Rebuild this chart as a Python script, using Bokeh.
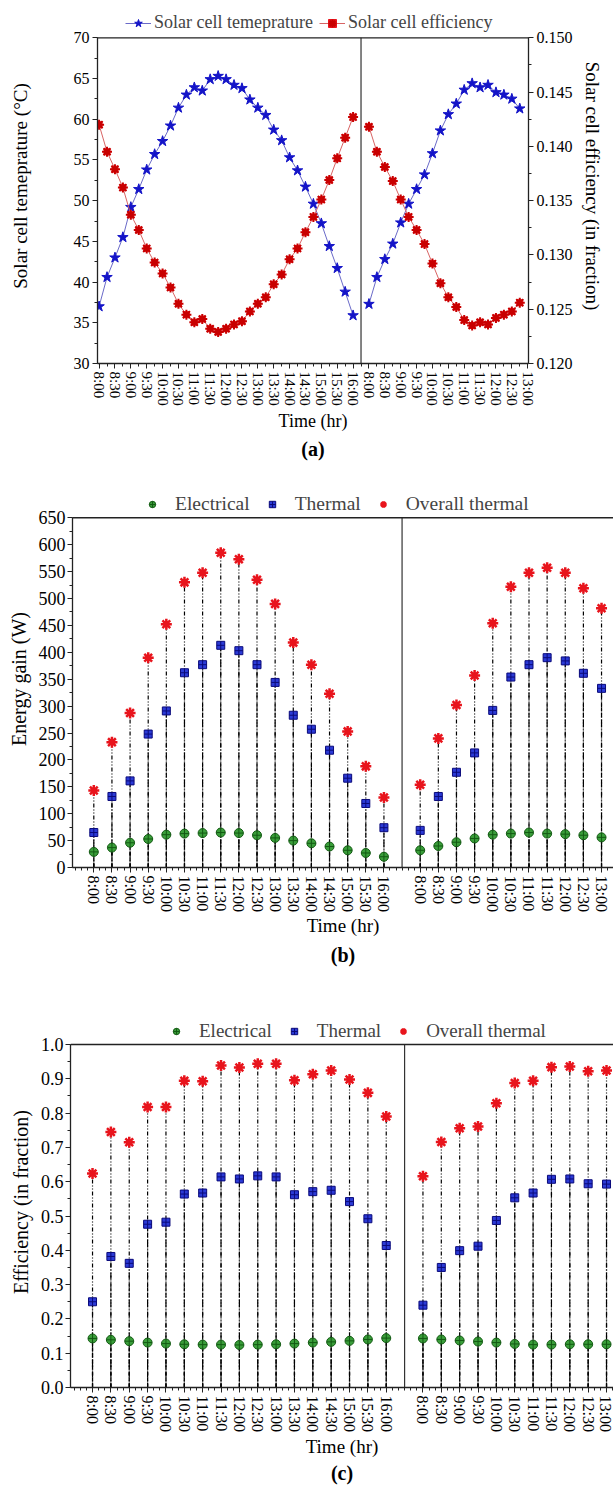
from bokeh.plotting import figure
from bokeh.models import (Range1d, LinearAxis, FixedTicker, SingleIntervalTicker, Span,
                          Legend, LegendItem, Title, NumeralTickFormatter)
from bokeh.embed import file_html
from bokeh.resources import INLINE

FONT = "Liberation Serif"

# ---------------- data ----------------
day1_labels = ["8:00", "8:30", "9:00", "9:30", "10:00", "10:30", "11:00", "11:30", "12:00",
               "12:30", "13:00", "13:30", "14:00", "14:30", "15:00", "15:30", "16:00"]
day2_labels = ["8:00", "8:30", "9:00", "9:30", "10:00", "10:30", "11:00", "11:30", "12:00",
               "12:30", "13:00"]

# (a) 15-min readings
temp_day1 = [37.0, 40.6, 43.0, 45.5, 49.2, 51.4, 53.8, 55.7, 57.3, 59.2, 61.4, 63.0, 63.9,
             63.5, 64.9, 65.3, 64.9, 64.2, 63.8, 62.4, 61.4, 60.5, 58.7, 57.4, 55.3, 53.7,
             51.7, 49.6, 47.2, 44.4, 41.7, 38.8, 35.9]
eff_day1 = [0.1420, 0.1395, 0.1379, 0.1362, 0.1337, 0.1323, 0.1306, 0.1293, 0.1283, 0.1270,
            0.1255, 0.1245, 0.1238, 0.1241, 0.1232, 0.1229, 0.1232, 0.1236, 0.1239, 0.1248,
            0.1255, 0.1261, 0.1273, 0.1282, 0.1296, 0.1306, 0.1321, 0.1335, 0.1351, 0.1369,
            0.1389, 0.1408, 0.1427]
temp_day2 = [37.3, 40.6, 42.8, 44.7, 47.3, 49.6, 51.4, 53.2, 55.8, 58.6, 60.6, 61.9, 63.6,
             64.4, 63.9, 64.2, 63.3, 63.0, 62.5, 61.3]
eff_day2 = [0.1418, 0.1395, 0.1381, 0.1368, 0.1351, 0.1335, 0.1323, 0.1310, 0.1292, 0.1274,
            0.1261, 0.1252, 0.1240, 0.1235, 0.1238, 0.1236, 0.1242, 0.1245, 0.1248, 0.1256]

# (b) energy gain (W), 30-min readings
elec_w_day1 = [29, 37, 46, 53, 61, 63, 64, 65, 64, 60, 55, 50, 45, 39, 32, 27, 20]
therm_w_day1 = [65, 132, 161, 248, 291, 362, 377, 413, 403, 377, 344, 283, 257, 218, 166, 119, 74]
over_w_day1 = [143, 233, 287, 390, 452, 530, 548, 585, 573, 535, 490, 418, 377, 323, 253, 188, 130]
elec_w_day2 = [32, 40, 47, 54, 61, 63, 65, 63, 62, 60, 56]
therm_w_day2 = [69, 132, 177, 213, 292, 354, 377, 390, 384, 361, 333]
over_w_day2 = [154, 240, 302, 357, 454, 522, 548, 557, 548, 519, 482]

# (c) efficiency (fraction), 30-min readings
elec_e_day1 = [0.143, 0.139, 0.135, 0.131, 0.128, 0.126, 0.125, 0.125, 0.124, 0.125, 0.126,
               0.128, 0.131, 0.133, 0.136, 0.140, 0.144]
therm_e_day1 = [0.250, 0.382, 0.362, 0.476, 0.482, 0.564, 0.567, 0.614, 0.608, 0.617, 0.614,
                0.562, 0.571, 0.575, 0.542, 0.492, 0.414]
over_e_day1 = [0.624, 0.745, 0.715, 0.818, 0.818, 0.894, 0.893, 0.939, 0.933, 0.944, 0.944,
               0.896, 0.913, 0.924, 0.898, 0.859, 0.790]
elec_e_day2 = [0.143, 0.140, 0.137, 0.134, 0.131, 0.127, 0.125, 0.125, 0.126, 0.126, 0.126]
therm_e_day2 = [0.240, 0.350, 0.399, 0.412, 0.487, 0.553, 0.567, 0.607, 0.608, 0.594, 0.593]
over_e_day2 = [0.616, 0.716, 0.756, 0.761, 0.829, 0.888, 0.894, 0.934, 0.936, 0.922, 0.924]

# ---------------- helpers ----------------
BLUE = "#1414c8"
RED = "#e8141c"
GREEN = "#3a9e3a"


def style_axis(ax, tick_size, label_size, standoff=6, lab_standoff=3):
    ax.major_label_text_font = FONT
    ax.major_label_text_font_size = tick_size
    ax.major_label_text_color = "black"
    ax.axis_label_text_font = FONT
    ax.axis_label_text_font_size = label_size
    ax.axis_label_text_font_style = "normal"
    ax.axis_label_text_color = "black"
    ax.axis_label_standoff = standoff
    ax.axis_line_color = "#222222"
    ax.axis_line_width = 1.3
    ax.major_tick_line_color = "#222222"
    ax.minor_tick_line_color = "#222222"
    ax.major_tick_out = 5
    ax.major_tick_in = 0
    ax.minor_tick_out = 3
    ax.minor_tick_in = 0
    ax.major_label_standoff = lab_standoff


def caption(p, text, standoff):
    t = Title(text=text, align="center", text_font=FONT, text_font_size="20px",
              text_font_style="bold", text_color="black", standoff=standoff)
    p.add_layout(t, "below")


def base_fig(width, height, xr, yr, left, right, top, bottom):
    p = figure(width=width, height=height, title=None, x_range=xr, y_range=yr,
               output_backend="svg", toolbar_location=None,
               min_border_left=left, min_border_right=right,
               min_border_top=top, min_border_bottom=bottom)
    p.xgrid.visible = False
    p.ygrid.visible = False
    p.outline_line_color = None
    p.background_fill_color = "white"
    p.border_fill_color = "white"
    return p


# ---------------- panel (a) ----------------
x_a1 = list(range(0, len(temp_day1)))
x_a2 = list(range(34, 34 + len(temp_day2)))
a_major = list(range(0, 33, 2)) + list(range(34, 55, 2))
a_labels = day1_labels + day2_labels
a_minor = [k for k in range(1, 55, 2)]

# page pixel geometry of panel (a)
A_H, A_FTOP, A_DTOP, A_FBOT = 490, 8, 37.3, 363
A_LEFT, A_RIGHT = 97, 528
a_px_per = (A_FBOT - A_DTOP)
a_extra = (A_DTOP - A_FTOP) / a_px_per
pa = base_fig(613, A_H, Range1d(-0.2, 54.1), Range1d(30, 70 + 40 * a_extra),
              A_LEFT, 613 - A_RIGHT, A_FTOP, A_H - A_FBOT)
pa.extra_y_ranges = {"eff": Range1d(0.12, 0.15 + 0.03 * a_extra)}

pa.add_layout(Span(location=70, dimension="width", line_color="#222222", line_width=1.3))
pa.segment(x0=[33], y0=[30], x1=[33], y1=[70], line_color="#333333", line_width=1.2)

lt1 = pa.line(x_a1, temp_day1, line_color="#6a6ac8", line_width=1)
lt2 = pa.line(x_a2, temp_day2, line_color="#6a6ac8", line_width=1)
st1 = pa.scatter(x_a1, temp_day1, marker="star", size=11, fill_color=BLUE, line_color=BLUE)
st2 = pa.scatter(x_a2, temp_day2, marker="star", size=11, fill_color=BLUE, line_color=BLUE)

le1 = pa.line(x_a1, eff_day1, line_color="#d86464", line_width=1, y_range_name="eff")
le2 = pa.line(x_a2, eff_day2, line_color="#d86464", line_width=1, y_range_name="eff")
se1 = pa.scatter(x_a1, eff_day1, marker="square", size=6, fill_color=RED, line_color=RED,
                 y_range_name="eff")
sa1 = pa.scatter(x_a1, eff_day1, marker="asterisk", size=10, line_color="#c80000",
                 line_width=2, y_range_name="eff")
se2 = pa.scatter(x_a2, eff_day2, marker="square", size=6, fill_color=RED, line_color=RED,
                 y_range_name="eff")
sa2 = pa.scatter(x_a2, eff_day2, marker="asterisk", size=10, line_color="#c80000",
                 line_width=2, y_range_name="eff")

pa.xaxis.ticker = FixedTicker(ticks=a_major, minor_ticks=a_minor)
pa.xaxis.major_label_overrides = {t: lab for t, lab in zip(a_major, a_labels)}
pa.xaxis.major_label_orientation = "vertical"
pa.xaxis.axis_label = "Time (hr)"
style_axis(pa.xaxis[0], "15px", "18px", 2)

pa.yaxis.ticker = SingleIntervalTicker(interval=5, num_minor_ticks=2)
pa.yaxis.bounds = (30, 70)
pa.yaxis.axis_label = "Solar cell temeprature (\u00b0C)"
style_axis(pa.yaxis[0], "16px", "19px", 40)

ax_r = LinearAxis(y_range_name="eff", axis_label="Solar cell efficiency (in fraction)",
                  ticker=SingleIntervalTicker(interval=0.005, num_minor_ticks=2),
                  formatter=NumeralTickFormatter(format="0.000"), bounds=(0.12, 0.15))
style_axis(ax_r, "16px", "19px", 6)
pa.add_layout(ax_r, "right")

leg_a = Legend(items=[LegendItem(label="Solar cell temeprature", renderers=[lt1, st1]),
                      LegendItem(label="Solar cell efficiency", renderers=[le1, se1, sa1])],
               orientation="horizontal", location=(28, A_FBOT - 33),
               label_text_font=FONT, label_text_font_size="18px",
               border_line_color=None, background_fill_alpha=0,
               padding=2, margin=0, spacing=6, glyph_width=26, label_standoff=3,
               glyph_height=20, label_height=20)
pa.add_layout(leg_a, "center")
caption(pa, "(a)", 4)

# ---------------- panels (b), (c) ----------------
x_b1 = list(range(0, len(day1_labels)))
x_b2 = list(range(18, 18 + len(day2_labels)))
bc_major = x_b1 + x_b2
bc_labels = day1_labels + day2_labels
bc_minor = [k / 3 for k in range(-3, 87) if (k % 3 != 0) or (k // 3 not in bc_major)]


def energy_panel(height, ftop, dtop, fbot, left, xr, ymax, yint, yfmt, ylabel,
                 e1, t1, o1, e2, t2, o2, cap, cap_standoff, time_standoff,
                 leg_x, leg_bottom, leg_font, ytick_font):
    extra = (dtop - ftop) / (fbot - dtop)
    p = base_fig(613, height, xr, Range1d(0, ymax * (1 + extra)), left, 0, 0,
                 height - (fbot - ftop))
    p.add_layout(Span(location=ymax, dimension="width", line_color="#222222", line_width=1.5))
    p.segment(x0=[17], y0=[0], x1=[17], y1=[ymax], line_color="#333333", line_width=1.2)

    for xs, e, t, o in ((x_b1, e1, t1, o1), (x_b2, e2, t2, o2)):
        p.segment(x0=xs, y0=[0] * len(xs), x1=xs, y1=o, line_color="#000000",
                  line_width=1.2, line_dash="4 2 1 2 1 2")
        p.segment(x0=xs, y0=[0] * len(xs), x1=xs, y1=t, line_color="#000000",
                  line_width=1.2, line_dash="5 2 1 2")
        p.segment(x0=xs, y0=[0] * len(xs), x1=xs, y1=e, line_color="#000000",
                  line_width=1.2, line_dash="4 2")

    r_e = [p.scatter(xs, v, marker="circle_cross", size=9, fill_color=GREEN,
                     line_color="#135a13", line_width=1) for xs, v in ((x_b1, e1), (x_b2, e2))]
    r_t = [p.scatter(xs, v, marker="square_cross", size=8, fill_color="#2b3ad6",
                     line_color="#0a0a7a", line_width=1) for xs, v in ((x_b1, t1), (x_b2, t2))]
    r_o = [p.scatter(xs, v, marker="asterisk", size=11, line_color=RED, line_width=2.5)
           for xs, v in ((x_b1, o1), (x_b2, o2))]

    p.xaxis.ticker = FixedTicker(ticks=bc_major, minor_ticks=bc_minor)
    p.xaxis.major_label_overrides = {t: lab for t, lab in zip(bc_major, bc_labels)}
    p.xaxis.major_label_orientation = "vertical"
    p.xaxis.axis_label = "Time (hr)"
    style_axis(p.xaxis[0], "16px", "19px", time_standoff)

    p.yaxis.ticker = SingleIntervalTicker(interval=yint, num_minor_ticks=2)
    p.yaxis.formatter = NumeralTickFormatter(format=yfmt)
    p.yaxis.bounds = (0, ymax)
    p.yaxis.axis_label = ylabel
    style_axis(p.yaxis[0], ytick_font, "20px", 6, 2)

    leg = Legend(items=[LegendItem(label="Electrical", renderers=[r_e[0]]),
                        LegendItem(label="Thermal", renderers=[r_t[0]]),
                        LegendItem(label="Overall thermal", renderers=[r_o[0]])],
                 orientation="horizontal", location=(leg_x, fbot - leg_bottom),
                 label_text_font=FONT, label_text_font_size=leg_font,
                 border_line_color=None, background_fill_alpha=0,
                 padding=2, margin=0, spacing=14, glyph_width=16, label_standoff=15,
                 glyph_height=20, label_height=20)
    p.add_layout(leg, "center")
    caption(p, cap, cap_standoff)
    return p


pb = energy_panel(526, 490, 517.3, 867, 72, Range1d(-1.175, 28.66), 650, 50, "0",
                  "Energy gain (W)",
                  elec_w_day1, therm_w_day1, over_w_day1,
                  elec_w_day2, therm_w_day2, over_w_day2, "(b)", 7, 0,
                  72, 515, "19.5px", "18px")
pc = energy_panel(469, 1016, 1044, 1387, 70, Range1d(-1.2, 28.38), 1.0, 0.1, "0.0",
                  "Efficiency (in fraction)",
                  elec_e_day1, therm_e_day1, over_e_day1,
                  elec_e_day2, therm_e_day2, over_e_day2, "(c)", 0, 1,
                  98, 1042, "19px", "18px")

open("out.html", "w").write(file_html([pa, pb, pc], INLINE))
